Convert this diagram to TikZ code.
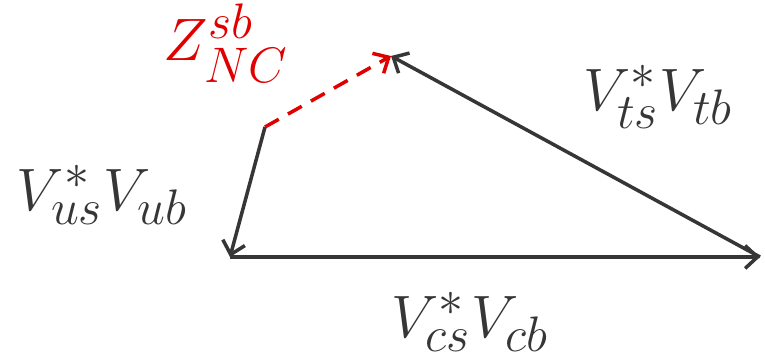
\documentclass[tikz,border=0pt]{standalone}
\usepackage{amsmath}
\usepackage{xcolor}
\usepackage{graphicx}
\usepackage{tikz}
\usetikzlibrary{arrows.meta}

\definecolor{vecgray}{HTML}{363636}
\definecolor{npred}{HTML}{E00000}
\newcommand{\biglbl}[1]{\scalebox{1.37}{$#1$}}

\begin{document}
\begin{tikzpicture}[x=0.02cm, y=0.02cm,
  vec/.style={draw=vecgray, line width=2pt, -{Straight Barb[length=7pt, width=13pt, line width=2pt]}},
  newvec/.style={vec, draw=npred, dashed, dash pattern=on 9pt off 6pt},
  ckm/.style={text=vecgray, font=\fontsize{24.88}{30}\selectfont, inner sep=0pt}]
\useasboundingbox (0,0) rectangle (765,359);
% corners of the triangle
\coordinate (left) at (230,102);
\coordinate (right) at (760,102);
\coordinate (top) at (391,303);
\coordinate (kink) at (265,232);
% sides
\draw[vec] (left) -- (right);
\draw[vec] (right) -- (top);
\draw[vec] (kink) -- (left);
\draw[newvec] (kink) -- (top);
% labels
\node[ckm] (cb) at (470,37) {\biglbl{V_{cs}^{*}V_{cb}}};
\node[ckm] (tb) at (658,262) {\biglbl{V_{ts}^{*}V_{tb}}};
\node[ckm] (ub) at (102,164) {\biglbl{V_{us}^{*}V_{ub}}};
\node[ckm, text=npred] (nc) at (226,316) {\biglbl{Z_{NC}^{sb}}};
\end{tikzpicture}
\end{document}
